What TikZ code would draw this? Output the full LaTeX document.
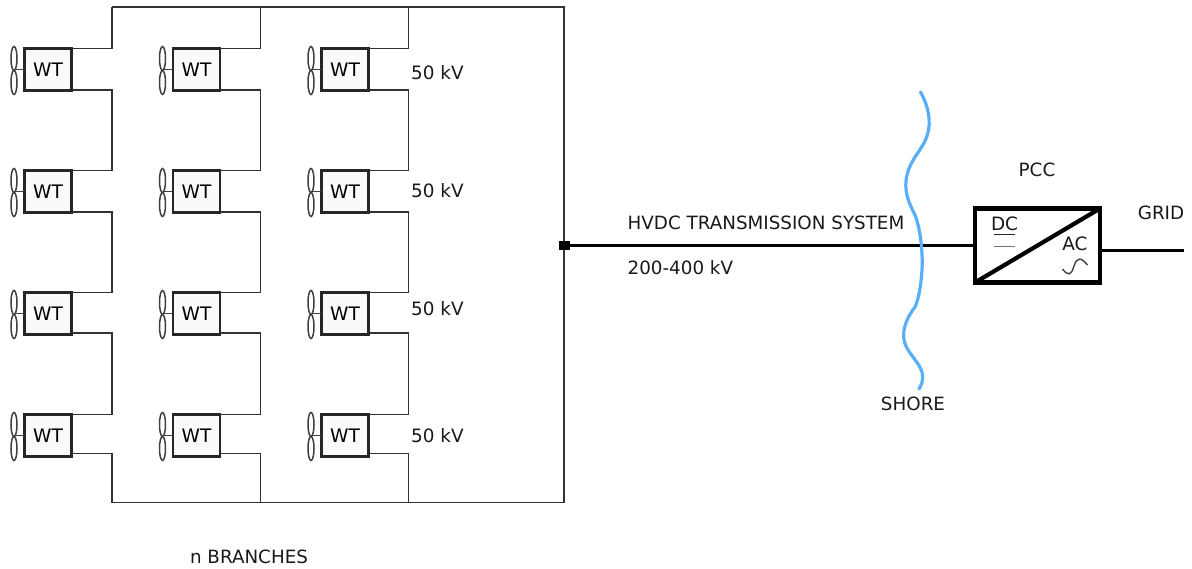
\documentclass[tikz,border=0pt]{standalone}
\usepackage{fontspec}
\setmainfont{DejaVu Sans}
\definecolor{shorec}{HTML}{5AAEF8}
\definecolor{wirec}{HTML}{333333}
\tikzset{
  wtbox/.style={draw=black!85,fill=black!2,line width=2.6pt,outer sep=0pt,minimum width=47pt,minimum height=42pt,inner sep=0pt,anchor=north west,font=\fontsize{18.6}{20}\selectfont},
  blade/.style={draw=black!75,line width=1.5pt},
  wire/.style={draw=wirec,line width=1.6pt},
  lbl/.style={font=\fontsize{18.4}{20}\selectfont,inner sep=0pt,text=black!90},
  small/.style={font=\fontsize{18.3}{20}\selectfont,inner sep=0pt,text=black!90},
  power/.style={draw=black,line width=3pt},
  conv/.style={draw=black,line width=4.2pt}
}
\begin{document}
\begin{tikzpicture}[x=1pt,y=-1pt]
\useasboundingbox (0,0) rectangle (1192,569);
% collector frame
\coordinate (tl) at (112,7);
\coordinate (tr) at (564,7);
\coordinate (bl) at (112,502.5);
\coordinate (br) at (564,502.5);
\draw[wire] (tl) -- (tr) -- (br) -- (bl);
\foreach \c/\x/\bus in {1/24.5/112,2/173/260.5,3/321.5/408.5}{
  \foreach \r/\y/\low in {1/48.5/90,2/170.5/212,3/292.5/333,4/414.5/453.5}{
    \node[wtbox] (w\c\r) at (\x,\y) {\raisebox{-1pt}{WT}};
    \draw[blade] (\x-10.5,\y+10) ellipse (3 and 12);
    \draw[blade] (\x-10.5,\y+34) ellipse (3 and 12);
    \draw[blade] (\x-10.5,\y+21) -- (w\c\r.west);
    \coordinate (j\c\r) at (\bus,\y);
    \coordinate (k\c\r) at (\bus,\low);
  }
  \coordinate (t\c) at (\bus,7);
  \coordinate (b\c) at (\bus,502.5);
  \draw[wire] (w\c1.north east) -- (j\c1) -- (t\c);
  \draw[wire] (w\c1.east |- k\c1) -- (k\c1) -- (j\c2) -- (w\c2.north east);
  \draw[wire] (w\c2.east |- k\c2) -- (k\c2) -- (j\c3) -- (w\c3.north east);
  \draw[wire] (w\c3.east |- k\c3) -- (k\c3) -- (j\c4) -- (w\c4.north east);
  \draw[wire] (w\c4.east |- k\c4) -- (k\c4) -- (b\c);
}
% voltage labels
\node[lbl,anchor=base west] (v1) at (411,80) {50 kV};
\node[lbl,anchor=base west] (v2) at (411,198) {50 kV};
\node[lbl,anchor=base west] (v3) at (411,316) {50 kV};
\node[lbl,anchor=base west] (v4) at (411,442) {50 kV};
\node[small,anchor=base] (nb) at (249,563) {n BRANCHES};
% HVDC link
\node[fill=black,minimum width=11pt,minimum height=9pt,inner sep=0pt] (bus) at (564,245.5) {};
\node[draw=none,minimum width=125pt,minimum height=74pt,inner sep=0pt,outer sep=0pt] (cv) at (1037.5,245.5) {};
\draw[power] (bus.east) -- (cv.west);
\draw[shorec,line width=3.2pt,line cap=round]
  (920.5,92) .. controls (928,105) and (932,122) .. (927,136)
  .. controls (923,149) and (911,158) .. (907,175)
  .. controls (903,192) and (910,205) .. (915,215)
  .. controls (920,228) and (923,250) .. (922,270)
  .. controls (921,285) and (919,298) .. (915,307)
  .. controls (908,316) and (902,328) .. (904,340)
  .. controls (906,352) and (918,360) .. (922,372)
  .. controls (924,380) and (921,386) .. (919,389);
\coordinate (gridend) at (1184,250.5);
\draw[power] (cv.east |- gridend) -- (gridend);
\draw[conv,fill=white] (cv.north west) rectangle (cv.south east);
\draw[conv] (cv.south west) -- (cv.north east);
\node[lbl,anchor=base] (dc) at (1004.5,231) {DC};
\draw[draw=black!85,line width=1.6pt] (994,234.5) -- (1014.5,234.5);
\draw[draw=black!55,line width=1.6pt] (994,246.5) -- (1014.5,246.5);
\node[lbl,anchor=base] (ac) at (1075,251) {AC};
\draw[draw=black!75,line width=1.4pt] (1062.5,269) .. controls (1068,276) and (1071,276) .. (1074,266) .. controls (1077,257) and (1081,257) .. (1087.5,265);
\node[small,anchor=base west] (hv) at (627.5,230) {HVDC TRANSMISSION SYSTEM};
\node[small,anchor=base west] (kv) at (627.5,275) {200-400 kV};
\node[small,anchor=base] (sh) at (913,410) {SHORE};
\node[small,anchor=base] (pcc) at (1037,177) {PCC};
\node[small,anchor=base] (gr) at (1161,219.5) {GRID};
\end{tikzpicture}
\end{document}
